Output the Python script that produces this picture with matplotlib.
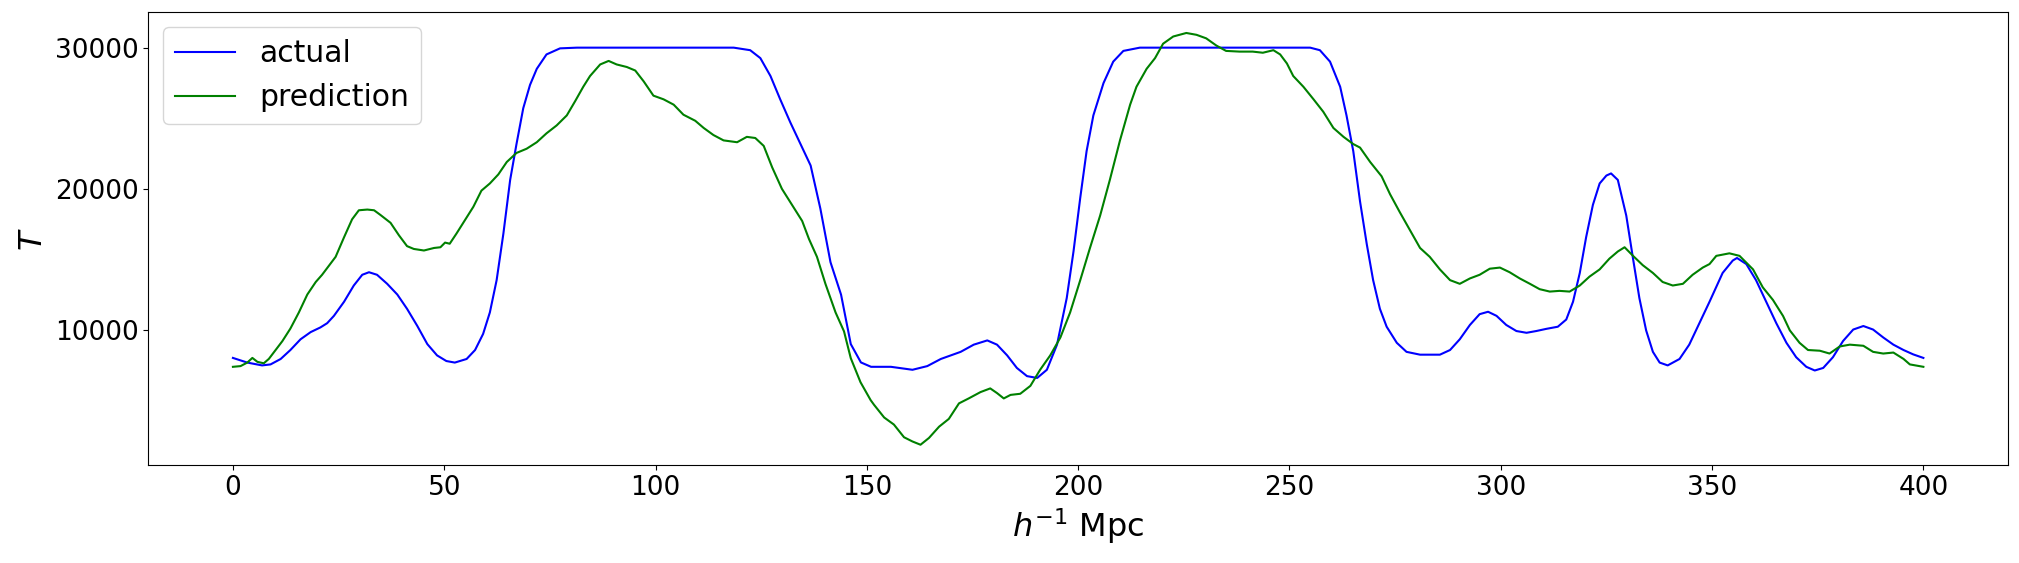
import matplotlib
matplotlib.use('Agg')
import matplotlib.pyplot as plt
import numpy as np

# actual (smooth) curve
x_actual = [0, 3.4, 6.9, 8.9, 11.3, 13.6, 16, 18.4, 20.7, 22.3, 23.9, 26.3, 28.6, 30.6, 32.2,
            34.1, 36.5, 38.9, 41.2, 43.6, 46, 48.3, 50.5, 52.5, 55.3, 57.3, 59.2, 60.8, 62.4,
            64, 65.6, 67.1, 68.7, 70.3, 71.9, 74.2, 77.4, 81.4, 118.5, 122.4, 124.8, 127.2,
            129.5, 131.9, 134.3, 136.7, 139, 141.4, 143.9, 146.2, 148.6, 151, 155.7, 160.8,
            164.3, 167.5, 172.2, 175.3, 178.5, 180.8, 183.2, 185.5, 187.9, 190.3, 192.6, 195,
            197.3, 198.9, 200.5, 202, 203.6, 206, 208.3, 210.7, 214.6, 254.9, 257.2, 259.6,
            262, 263.5, 265.1, 266.7, 268.3, 269.8, 271.4, 273, 275.4, 277.7, 280.9, 285.6,
            288, 290.3, 292.7, 295, 297, 299, 301.3, 303.7, 306.1, 308.4, 310.8, 313.5, 315.5,
            317.1, 318.7, 320.2, 321.8, 323.4, 325, 326.1, 327.7, 329.7, 331.3, 332.8, 334.4,
            336, 337.6, 339.5, 342.3, 344.6, 347, 349.4, 352.5, 354.9, 355.9, 358.1, 360.4,
            362.8, 365.2, 367.6, 369.9, 372.3, 374.3, 376.3, 378.6, 381, 383.4, 385.8, 388.1,
            390.5, 392.9, 395.3, 397.6, 400]
t_actual = [8020, 7690, 7490, 7560, 7945, 8580, 9340, 9850, 10180, 10480, 11000, 12000, 13150,
            13910, 14090, 13910, 13270, 12510, 11500, 10300, 9000, 8200, 7800, 7690, 7945, 8580,
            9720, 11245, 13530, 16830, 20630, 23170, 25710, 27360, 28500, 29520, 29950, 30000,
            30000, 29820, 29260, 27990, 26340, 24700, 23170, 21650, 18600, 14800, 12500, 9000,
            7700, 7390, 7390, 7180, 7440, 7945, 8450, 8960, 9260, 8960, 8200, 7310, 6730, 6600,
            7180, 8960, 12260, 15560, 19370, 22670, 25200, 27490, 29010, 29770, 30000, 30000,
            29820, 29010, 27230, 25200, 22670, 19110, 16070, 13530, 11500, 10230, 9090, 8450,
            8250, 8250, 8580, 9340, 10355, 11120, 11290, 11000, 10355, 9925, 9800, 9925, 10080,
            10230, 10740, 12000, 14040, 16570, 18860, 20380, 20940, 21090, 20630, 18100, 15050,
            12260, 9970, 8450, 7690, 7490, 7945, 8960, 10480, 12000, 14040, 14920, 15100, 14670,
            13530, 12000, 10480, 9090, 8070, 7390, 7130, 7310, 8070, 9220, 10030, 10280, 10030,
            9470, 8960, 8580, 8270, 8020]

# prediction (noisy) curve
x_pred = [0, 1.8, 3.4, 4.6, 5.8, 7.3, 8.5, 10.1, 11.7, 13.6, 15.6, 17.6, 19.6, 21.1, 22.7,
          24.3, 26.3, 28.2, 29.8, 31.8, 33.4, 34.9, 37.3, 39.3, 41.2, 42.8, 45.2, 47.6, 49.1,
          50.2, 51.3, 52.9, 55.3, 56.9, 58.8, 60.8, 62.8, 64.8, 67.1, 69.5, 71.9, 74.2, 76.6,
          79, 81, 82.9, 84.5, 86.9, 88.9, 90.8, 93.2, 95.2, 97.2, 99.5, 101.9, 104.3, 106.6,
          109.4, 111.4, 113.7, 116.1, 119.3, 121.6, 123.6, 125.6, 127.6, 129.9, 132.3, 134.7,
          136.3, 138.2, 140.2, 142.6, 144.6, 146.2, 148.5, 150.9, 151.7, 154.1, 156.4, 158.8,
          160.8, 162.7, 164.7, 167.1, 169.4, 171.8, 174.1, 176.9, 179.2, 180.8, 182.4, 184,
          186.3, 188.7, 191, 193.4, 195.8, 198.1, 200.5, 202.8, 205.2, 207.5, 209.9, 212.3,
          213.8, 216.2, 218.2, 220.1, 222.5, 225.6, 228, 230.3, 232.7, 235, 238.2, 241.3,
          243.7, 246.2, 247.8, 249.4, 250.9, 253.3, 255.7, 258, 260.4, 262.8, 265.1, 266.7,
          269.1, 271.8, 273.8, 276.1, 278.5, 280.9, 283.2, 285.6, 288, 290.3, 292.7, 295,
          297.4, 299.8, 302.1, 304.5, 306.9, 309.2, 311.6, 313.9, 316.3, 318.7, 321, 323.4,
          325.7, 327.7, 329.3, 331.3, 333.6, 336, 338.3, 340.7, 343.1, 345.4, 347.8, 349.4,
          351, 354.1, 356.5, 359.7, 362, 364.4, 366.8, 368.4, 370.7, 372.7, 375.5, 377.8,
          380.2, 382.6, 385.8, 388.1, 390.5, 392.9, 395.3, 396.8, 400]
t_pred = [7390, 7440, 7690, 8020, 7740, 7640, 7950, 8580, 9210, 10100, 11240, 12510, 13400,
          13910, 14540, 15180, 16570, 17840, 18480, 18530, 18480, 18150, 17590, 16700, 15940,
          15740, 15630, 15810, 15860, 16190, 16110, 16830, 17970, 18730, 19870, 20380, 21020,
          21900, 22540, 22840, 23300, 23930, 24490, 25200, 26220, 27230, 27990, 28810, 29060,
          28810, 28630, 28380, 27610, 26600, 26340, 25960, 25250, 24820, 24310, 23810, 23430,
          23300, 23680, 23600, 23040, 21520, 20000, 18860, 17720, 16450, 15180, 13270, 11240,
          9900, 8000, 6300, 5030, 4700, 3800, 3300, 2400, 2100, 1870, 2350, 3150, 3700, 4800,
          5150, 5600, 5860, 5530, 5150, 5400, 5480, 6040, 7180, 8200, 9470, 11240, 13530, 15810,
          18100, 20630, 23430, 25960, 27230, 28500, 29260, 30280, 30790, 31040, 30910, 30660,
          30150, 29770, 29720, 29720, 29640, 29820, 29520, 28880, 27990, 27230, 26340, 25460,
          24310, 23680, 23170, 22920, 21900, 20890, 19620, 18350, 17080, 15810, 15180, 14290,
          13530, 13270, 13650, 13910, 14340, 14420, 14090, 13650, 13270, 12890, 12720, 12770,
          12720, 13150, 13780, 14290, 15050, 15560, 15860, 15250, 14590, 14040, 13400, 13150,
          13270, 13910, 14420, 14670, 15250, 15430, 15250, 14290, 13020, 12130, 10990, 9970,
          9090, 8580, 8530, 8330, 8830, 8960, 8880, 8450, 8330, 8400, 7950, 7560, 7390]

fig, ax = plt.subplots(figsize=(20.19, 5.63), dpi=100)
plt.subplots_adjust(left=0.0735, right=0.9945, top=0.978, bottom=0.1735)

ax.plot(x_actual, t_actual, c='blue', label='actual')
ax.plot(x_pred, t_pred, c='green', label='prediction')
ax.legend(loc='upper left', fontsize=21.5)
ax.set_xlabel(r'$h^{-1}$ Mpc', fontsize=23)
ax.set_ylabel(r'$T$', fontsize=23)
ax.set_yticks([10000, 20000, 30000])
ax.tick_params(labelsize=19)

plt.savefig('out.png')
